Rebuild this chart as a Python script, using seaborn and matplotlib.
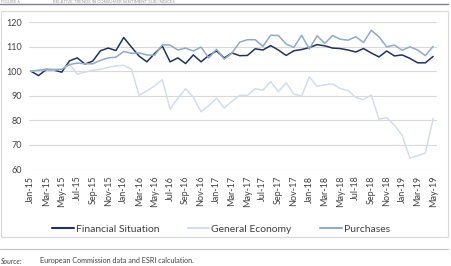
import pandas as pd
import numpy as np
import matplotlib
matplotlib.use("Agg")
import matplotlib.pyplot as plt
from matplotlib.patches import Rectangle
from matplotlib.lines import Line2D
import seaborn as sns

# monthly index values, Jan-15 = 100
months = pd.date_range("2015-01-01", "2019-05-01", freq="MS").strftime("%b-%y").tolist()

financial_situation = [100, 98.2, 100.7, 100.4, 99.6, 104.2, 105.4, 102.9, 104.1, 108.3,
                       109.4, 108.4, 113.7, 109.8, 106.1, 103.8, 107.2, 110.2, 103.8, 105.4,
                       103.1, 106.6, 103.8, 106.4, 108.2, 105.4, 107.4, 106.3, 106.4, 109.1,
                       108.6, 110.4, 108.6, 106.4, 108.3, 108.8, 109.6, 110.8, 110.3, 109.4,
                       109.2, 108.6, 107.8, 109.2, 107.4, 105.8, 108.2, 106.2, 106.6, 105.2,
                       103.4, 103.4, 106.0]
general_economy = [100, 100.1, 100.7, 100.4, 101.0, 102.7, 98.8, 99.6, 100.3, 100.8,
                   101.5, 102.2, 102.4, 100.8, 90.2, 92.0, 94.0, 96.5, 84.5, 89.0,
                   92.8, 89.5, 83.5, 86.0, 89.0, 85.0, 87.8, 90.2, 90.2, 92.9,
                   92.2, 95.8, 91.6, 95.3, 90.6, 89.9, 97.7, 93.8, 94.5, 94.8,
                   92.9, 92.2, 89.3, 88.4, 90.3, 80.5, 81.1, 78.0, 73.9, 64.6,
                   65.6, 66.7, 80.7]
purchases = [100, 100.4, 100.8, 100.7, 100.7, 102.7, 103.3, 103.0, 103.0, 104.4,
             105.4, 105.7, 108.0, 107.3, 107.4, 106.6, 106.5, 110.7, 110.6, 108.6,
             109.4, 108.2, 109.8, 105.4, 108.9, 104.9, 107.4, 111.8, 112.8, 112.8,
             110.1, 114.6, 114.5, 111.0, 109.7, 114.6, 109.0, 114.4, 111.3, 114.5,
             113.0, 112.6, 114.0, 111.7, 116.6, 114.0, 109.9, 110.6, 108.5, 109.9,
             108.6, 106.3, 110.1]

series_names = ["Financial Situation", "General Economy", "Purchases"]
colors = ["#22325a", "#d3dde9", "#90aac8"]

df = pd.DataFrame({"Financial Situation": financial_situation,
                   "General Economy": general_economy,
                   "Purchases": purchases})
df["pos"] = np.arange(len(months))
long_df = df.melt(id_vars="pos", var_name="series", value_name="value")

sns.set_theme(style="white")
plt.rcParams["font.family"] = ["Lato", "DejaVu Sans"]

fig = plt.figure(figsize=(4.51, 2.66), dpi=100)
ax = fig.add_axes([29.3 / 451, 1 - 169.5 / 266, (437 - 29.3) / 451, (169.5 - 22) / 266])

sns.lineplot(data=long_df, x="pos", y="value", hue="series", hue_order=series_names,
             palette=colors, linewidth=1.1, ax=ax, legend=False)

ax.set_ylim(60, 120)
ax.set_yticks(range(60, 121, 10))
ax.set_xlim(-0.2, 52.5)
ax.set_xticks(range(0, len(months), 2))
ax.set_xticklabels(months[::2], rotation=90)
ax.set_xlabel("")
ax.set_ylabel("")
ax.tick_params(axis="both", length=0, labelsize=6.5, colors="#404040")
ax.tick_params(axis="y", pad=5)
ax.tick_params(axis="x", pad=4.5)
ax.grid(axis="y", color="#d9d9d9", linewidth=0.8)
ax.set_axisbelow(True)
for s in ax.spines.values():
    s.set_visible(False)

handles = [Line2D([], [], color=c, linewidth=1.5) for c in colors]
fig.legend(handles, series_names, loc="center", bbox_to_anchor=(221 / 451, 1 - 229 / 266),
           ncol=3, frameon=False, fontsize=7.5, handlelength=2.1, handletextpad=0.2,
           columnspacing=2.7, labelcolor="#404040")

# chart frame
fig.patches.append(Rectangle((1 / 451, 1 - 237 / 266), 447 / 451, 226 / 266,
                             transform=fig.transFigure, fill=False,
                             edgecolor="#d9d9d9", linewidth=0.8))

# title strip
fig.add_artist(Line2D([0, 448 / 451], [1 - 4 / 266] * 2, transform=fig.transFigure,
                      color="#7d7d96", linewidth=1.0))
fig.text(1 / 451, 1 - 0.2 / 266, "FIGURE 6", fontsize=3.2, color="#9a9a9a", va="top")
fig.text(53 / 451, 1 - 0.2 / 266, "RELATIVE TRENDS IN CONSUMER SENTIMENT SUB-INDICES",
         fontsize=3.2, color="#9a9a9a", va="top")

# source note
fig.add_artist(Line2D([0, 448 / 451], [1 - 249 / 266] * 2, transform=fig.transFigure,
                      color="#c0c0c0", linewidth=0.8))
fig.text(1 / 451, 1 - 261 / 266, "Source:", fontsize=5, style="italic", color="#404040", va="center")
fig.text(40 / 451, 1 - 261 / 266, "European Commission data and ESRI calculation.",
         fontsize=5.2, color="#404040", va="center")

fig.savefig("out.png", dpi=100)
